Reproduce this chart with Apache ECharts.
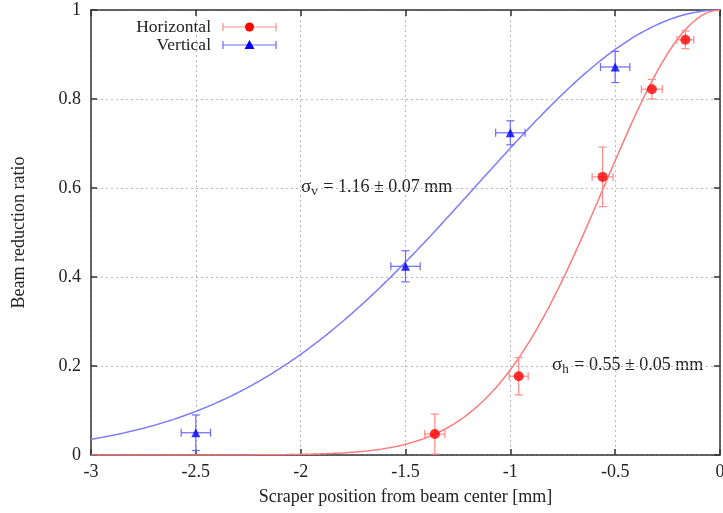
<!DOCTYPE html>
<html>
<head>
<meta charset="utf-8">
<script src="https://cdn.jsdelivr.net/npm/echarts@6/dist/echarts.min.js"></script>
<style>
  html, body { margin: 0; padding: 0; background: #fff; }
  #chart { width: 723px; height: 513px; }
</style>
</head>
<body>
<div id="chart"></div>
<script>
// Measured beam reduction ratio vs. scraper position, with x/y uncertainties
const horizX    = [-1.36, -0.96, -0.56, -0.325, -0.165];
const horizY    = [0.047, 0.177, 0.625, 0.822, 0.933];
const horizXErr = [0.048, 0.045, 0.05, 0.05, 0.04];
const horizYErr = [0.045, 0.042, 0.067, 0.022, 0.02];

const vertX    = [-2.5, -1.5, -1.0, -0.5];
const vertY    = [0.05, 0.424, 0.724, 0.872];
const vertXErr = [0.07, 0.07, 0.07, 0.07];
const vertYErr = [0.04, 0.035, 0.027, 0.035];

// Gaussian fit widths [mm] and their uncertainties
const sigmaH = [0.55, 0.05];
const sigmaV = [1.16, 0.07];

const xTicks = [-3, -2.5, -2, -1.5, -1, -0.5, 0];
const yTicks = [0, 0.2, 0.4, 0.6, 0.8, 1];

const FONT = 'Liberation Serif';
const FS = 18;
const RED = '#ff0000', RED_LINE = '#ff7a7a', RED_ERR = '#ff8a8a';
const BLUE = '#0000ff', BLUE_LINE = '#7b7bff', BLUE_ERR = '#6a6aff';

// Fit curve: normalised Gaussian profile exp(-x^2 / 2 sigma^2)
function fitCurve(sigma) {
  const pts = [];
  for (let i = 0; i <= 300; i++) {
    const x = xTicks[0] + i * 0.01;
    pts.push([x, Math.exp(-x * x / (2 * sigma * sigma))]);
  }
  return pts;
}

function errData(xs, ys, xe, ye) {
  return xs.map((x, i) => [x, ys[i], xe[i], ye[i]]);
}

function errorBars(color) {
  return function (params, api) {
    const x = api.value(0), y = api.value(1), dx = api.value(2), dy = api.value(3);
    const l = api.coord([x - dx, y]), r = api.coord([x + dx, y]);
    const t = api.coord([x, Math.min(1, y + dy)]), b = api.coord([x, Math.max(0, y - dy)]);
    const c = 4;
    const st = { stroke: color, lineWidth: 1.2 };
    return {
      type: 'group',
      children: [
        { type: 'line', shape: { x1: l[0], y1: l[1], x2: r[0], y2: r[1] }, style: st },
        { type: 'line', shape: { x1: l[0], y1: l[1] - c, x2: l[0], y2: l[1] + c }, style: st },
        { type: 'line', shape: { x1: r[0], y1: r[1] - c, x2: r[0], y2: r[1] + c }, style: st },
        { type: 'line', shape: { x1: t[0], y1: t[1], x2: b[0], y2: b[1] }, style: st },
        { type: 'line', shape: { x1: t[0] - c, y1: t[1], x2: t[0] + c, y2: t[1] }, style: st },
        { type: 'line', shape: { x1: b[0] - c, y1: b[1], x2: b[0] + c, y2: b[1] }, style: st }
      ]
    };
  };
}

const axisLine = { show: true, onZero: false, lineStyle: { color: '#333', width: 1.5 } };
const tickIn = { show: true, inside: true, length: 6, lineStyle: { color: '#333', width: 1.5 } };
const grid = { show: true, lineStyle: { color: '#b8b8b8', type: [2, 3], width: 1 } };

const chart = echarts.init(document.getElementById('chart'));

// Legend sample: line with end caps and a marker in the middle
function legendRow(y, label, color, errColor, symbol) {
  const x1 = 223, x2 = 276, xm = 249.5;
  const marker = symbol === 'circle'
    ? { type: 'circle', shape: { cx: xm, cy: y, r: 4.5 }, style: { fill: color } }
    : { type: 'polygon', shape: { points: [[xm, y - 5], [xm - 5, y + 4], [xm + 5, y + 4]] }, style: { fill: color } };
  return [
    { type: 'text', x: 211, y: y, style: { text: label, font: '17.5px ' + FONT, fill: '#222', align: 'right', verticalAlign: 'middle' } },
    { type: 'line', shape: { x1: x1, y1: y, x2: x2, y2: y }, style: { stroke: errColor, lineWidth: 1.2 } },
    { type: 'line', shape: { x1: x1, y1: y - 4, x2: x1, y2: y + 4 }, style: { stroke: errColor, lineWidth: 1.2 } },
    { type: 'line', shape: { x1: x2, y1: y - 4, x2: x2, y2: y + 4 }, style: { stroke: errColor, lineWidth: 1.2 } },
    marker
  ];
}

function sigmaLabel(x, y, sub, s) {
  return {
    type: 'text', x: x, y: y,
    style: {
      text: '{g|σ}{s|' + sub + '}{t| = ' + s[0].toFixed(2) + ' ± ' + s[1].toFixed(2) + ' mm}',
      verticalAlign: 'middle',
      rich: {
        g: { font: '19px ' + FONT, fill: '#222' },
        s: { font: '13px ' + FONT, fill: '#222', padding: [10, 1, 0, 0] },
        t: { font: FS + 'px ' + FONT, fill: '#222' }
      }
    }
  };
}

chart.setOption({
  animation: false,
  backgroundColor: '#fff',
  grid: { left: 91, right: 3, top: 10, bottom: 58, outerBoundsMode: 'none', containLabel: false },
  xAxis: [
    {
      type: 'value', min: xTicks[0], max: xTicks[xTicks.length - 1], interval: 0.5,
      axisLine: axisLine, axisTick: tickIn, splitLine: grid,
      axisLabel: { margin: 8, fontFamily: FONT, fontSize: FS, color: '#222' },
      name: 'Scraper position from beam center [mm]', nameLocation: 'middle', nameGap: 33,
      nameTextStyle: { fontFamily: FONT, fontSize: FS, color: '#222' }
    },
    {
      type: 'value', position: 'top', min: xTicks[0], max: xTicks[xTicks.length - 1], interval: 0.5,
      axisLine: axisLine, axisTick: tickIn, splitLine: { show: false }, axisLabel: { show: false }
    }
  ],
  yAxis: [
    {
      type: 'value', min: yTicks[0], max: yTicks[yTicks.length - 1], interval: 0.2,
      axisLine: axisLine, axisTick: tickIn, splitLine: grid,
      axisLabel: { margin: 10, fontFamily: FONT, fontSize: FS, color: '#222' },
      name: 'Beam reduction ratio', nameLocation: 'middle', nameGap: 63,
      nameTextStyle: { fontFamily: FONT, fontSize: FS, color: '#222' }
    },
    {
      type: 'value', position: 'right', min: yTicks[0], max: yTicks[yTicks.length - 1], interval: 0.2,
      axisLine: axisLine, axisTick: tickIn, splitLine: { show: false }, axisLabel: { show: false }
    }
  ],
  series: [
    {
      name: 'Vertical fit', type: 'line', data: fitCurve(sigmaV[0]), showSymbol: false,
      lineStyle: { color: BLUE_LINE, width: 1.5 }, z: 2
    },
    {
      name: 'Horizontal fit', type: 'line', data: fitCurve(sigmaH[0]), showSymbol: false,
      lineStyle: { color: RED_LINE, width: 1.5 }, z: 2
    },
    {
      name: 'Horizontal errors', type: 'custom', renderItem: errorBars(RED_ERR),
      data: errData(horizX, horizY, horizXErr, horizYErr), z: 3
    },
    {
      name: 'Vertical errors', type: 'custom', renderItem: errorBars(BLUE_ERR),
      data: errData(vertX, vertY, vertXErr, vertYErr), z: 3
    },
    {
      name: 'Horizontal', type: 'scatter', symbol: 'circle', symbolSize: 10,
      itemStyle: { color: RED }, data: horizX.map((x, i) => [x, horizY[i]]), z: 4
    },
    {
      name: 'Vertical', type: 'scatter', symbol: 'triangle', symbolSize: 9,
      itemStyle: { color: BLUE }, data: vertX.map((x, i) => [x, vertY[i]]), z: 4
    }
  ],
  graphic: [
    ...legendRow(27, 'Horizontal', RED, RED_ERR, 'circle'),
    ...legendRow(45, 'Vertical', BLUE, BLUE_ERR, 'triangle'),
    sigmaLabel(301, 187, 'v', sigmaV),
    sigmaLabel(552, 365, 'h', sigmaH)
  ]
});
</script>
</body>
</html>
